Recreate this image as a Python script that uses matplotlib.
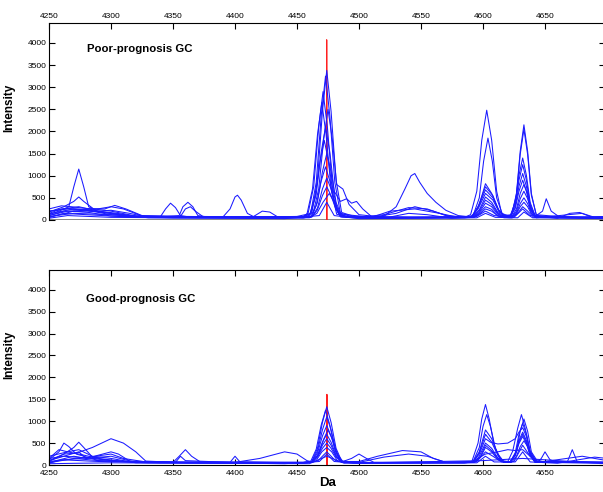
import matplotlib
matplotlib.use("Agg")
import matplotlib.pyplot as plt

plt.rcParams['font.family'] = ['Liberation Sans', 'DejaVu Sans']

# ---------------- data (Da, Intensity) vertices ----------------
x_ticks = [4250, 4300, 4350, 4400, 4450, 4500, 4550, 4600, 4650]
y_ticks = [0, 500, 1000, 1500, 2000, 2500, 3000, 3500, 4000]
panel_titles = ["Poor-prognosis GC", "Good-prognosis GC"]

# Poor-prognosis GC spectra (blue)
poor_1 = [(4250,150),(4260,250),(4274,300),(4290,200),(4305,150),(4320,80),(4360,60),(4420,60),(4455,70),
          (4462,170),(4466.5,900),(4470.5,2450),(4474,3380),(4477.5,2450),(4481.5,900),(4486,170),
          (4495,90),(4520,50),(4560,60),(4585,60),
          (4590,120),(4595,650),(4599,1800),(4603,2480),(4607,1800),(4611,650),(4615,150),(4620,100),
          (4622,100),(4626,400),(4629,1010),(4632,1400),(4635,1010),(4638,400),(4642,100),(4660,60),(4700,50)]
poor_2 = [(4250,200),(4265,250),(4280,220),(4300,120),(4330,60),(4440,50),(4460,80),
          (4461,150),(4465.5,850),(4469.5,2350),(4473,3250),(4476.5,2350),(4480.5,850),(4485,150),
          (4495,70),(4540,60),(4590,80),
          (4592,100),(4597,500),(4600.5,1330),(4604,1850),(4607.5,1330),(4611,500),(4616,100),(4621,80),
          (4623,100),(4627,600),(4630,1550),(4633,2150),(4636,1550),(4639,600),(4643,100),(4655,70),(4680,60),(4700,80)]
poor_3 = [(4250,180),(4262,300),(4270,420),(4274,520),(4278,420),(4286,250),(4300,200),(4320,90),(4400,60),(4455,80),
          (4459,160),(4463.5,760),(4467.5,2100),(4471,2900),(4474.5,2100),(4478.5,760),(4483,160),
          (4490,120),(4510,60),(4530,150),(4545,300),(4560,200),(4575,60),(4590,80),
          (4592,100),(4597,350),(4602,820),(4607,600),(4612,250),(4617,100),
          (4623,120),(4627,560),(4630,1480),(4633,2050),(4636,1480),(4639,560),(4643,120),(4660,80),(4700,60)]
poor_4 = [(4250,120),(4258,200),(4266,300),(4270,750),(4274,1150),(4278,750),(4282,300),(4290,180),(4310,120),(4330,50),
          (4440,40),(4455,60),
          (4458,130),(4462.5,700),(4466.5,1920),(4470,2650),(4473.5,1920),(4477.5,700),(4482,130),
          (4490,80),(4520,40),(4585,60),
          (4591,80),(4596,300),(4602,750),(4608,550),(4613,200),(4618,80),
          (4622,90),(4626,350),(4629,900),(4632,1250),(4635,900),(4638,350),(4642,90),(4660,50),(4700,40)]
poor_5 = [(4250,250),(4260,320),(4268,300),(4280,260),(4295,250),(4303,330),(4312,250),(4325,100),(4380,60),(4450,80),
          (4463,160),(4467.5,700),(4471.5,1820),(4475,2500),(4478.5,1820),(4482,800),(4487,700),(4492,350),(4500,120),
          (4520,60),(4585,70),
          (4591,90),(4596,280),(4602,680),(4608,500),(4613,200),(4618,90),
          (4622,80),(4626,300),(4629,760),(4632,1050),(4635,760),(4638,300),(4642,80),
          (4648,200),(4651,480),(4655,200),(4662,60),(4700,50)]
poor_6 = [(4250,200),(4265,260),(4285,230),(4300,300),(4310,250),(4325,90),(4400,70),(4455,80),
          (4461,140),(4465.5,580),(4469.5,1530),(4473,2100),(4476.5,1530),(4480,650),(4485,420),(4490,480),
          (4494,380),(4498,420),(4503,250),(4510,80),(4560,60),
          (4591,80),(4596,250),(4602,600),(4608,450),(4613,180),(4618,80),
          (4622,70),(4626,260),(4629,650),(4632,900),(4635,650),(4638,260),(4642,80),(4670,60),(4700,70)]
poor_7 = [(4250,100),(4265,200),(4280,220),(4300,150),(4320,60),(4420,60),(4455,60),
          (4460,110),(4464.5,500),(4468.5,1310),(4472,1800),(4475.5,1310),(4479.5,500),(4484,120),
          (4495,60),(4520,80),(4530,300),(4537,700),(4542,1000),(4545,1050),(4549,850),(4555,600),
          (4562,400),(4570,220),(4580,100),(4590,70),
          (4592,90),(4597,230),(4602,520),(4607,400),(4612,170),(4617,80),
          (4623,70),(4627,250),(4630,600),(4633,800),(4636,580),(4639,240),(4643,70),(4700,50)]
poor_8 = [(4250,80),(4270,150),(4300,120),(4330,60),(4390,60),(4396,250),(4400,520),(4402,560),(4405,450),
          (4410,150),(4416,60),(4455,50),
          (4462,80),(4466.5,400),(4470.5,1090),(4474,1500),(4477.5,1090),(4481.5,400),(4486,90),(4500,50),(4585,50),
          (4592,70),(4597,200),(4602,450),(4607,350),(4612,150),(4617,60),
          (4623,60),(4627,200),(4630,480),(4633,650),(4636,480),(4639,200),(4643,60),(4700,40)]
poor_9 = [(4250,60),(4262,150),(4280,120),(4320,60),(4340,80),(4344,250),(4348,380),(4352,280),(4356,100),(4365,60),
          (4415,80),(4422,200),(4428,180),(4435,60),(4455,50),
          (4461,70),(4465.5,330),(4469.5,880),(4473,1200),(4476.5,880),(4480.5,330),(4485,70),(4500,40),(4585,50),
          (4592,60),(4597,170),(4602,380),(4607,300),(4612,130),(4617,60),
          (4623,50),(4627,160),(4630,370),(4633,500),(4636,370),(4639,160),(4643,50),(4680,150),(4690,60),(4700,50)]
poor_10 = [(4250,140),(4270,250),(4290,200),(4310,100),(4340,70),(4355,100),(4358,300),(4362,400),(4366,300),
           (4370,100),(4380,60),(4455,50),
           (4462,70),(4466.5,270),(4470.5,700),(4474,950),(4477.5,700),(4481.5,270),(4486,80),(4500,60),
           (4520,120),(4540,280),(4555,250),(4570,100),(4590,60),
           (4593,70),(4597,150),(4602,300),(4607,240),(4612,100),(4617,60),
           (4623,60),(4627,140),(4630,300),(4633,400),(4636,300),(4639,140),(4643,60),(4700,60)]
poor_11 = [(4250,100),(4262,200),(4280,180),(4300,220),(4315,150),(4330,60),(4356,80),(4360,250),(4364,300),
           (4368,200),(4374,80),(4440,60),
           (4462,70),(4466.5,230),(4470.5,550),(4474,750),(4477.5,550),(4481.5,230),(4486,70),(4510,60),
           (4525,200),(4545,250),(4565,150),(4580,60),
           (4593,60),(4598,150),(4602,250),(4607,200),(4612,90),(4617,50),
           (4624,50),(4628,150),(4632,300),(4636,200),(4641,60),(4700,50)]
poor_12 = [(4250,60),(4270,200),(4280,180),(4300,90),(4350,50),(4460,50),(4466,150),(4471,400),(4476,600),
           (4480,400),(4485,150),(4490,60),(4520,40),(4540,150),(4555,120),(4575,40),(4595,80),(4602,200),
           (4609,100),(4625,60),(4632,250),(4638,100),(4660,40),(4670,150),(4678,170),(4688,60),(4700,80)]
poor_13 = [(4250,40),(4265,100),(4300,60),(4440,30),(4468,100),(4474,400),(4480,100),(4500,30),(4595,50),
           (4602,150),(4610,60),(4628,50),(4633,180),(4640,50),(4700,30)]
poor_baseline = [(4250,0),(4700,0)]

# red marker spectrum (narrow spike) per panel
poor_red = [(4473.9,0),(4473.9,4070),(4474.1,0)]
good_red = [(4474.1,0),(4474.1,1610),(4474.3,0)]

# Good-prognosis GC spectra (blue)
good_1 = [(4250,120),(4258,300),(4262,500),(4266,420),(4272,250),(4290,100),(4330,50),(4455,60),
          (4462,90),(4466.5,380),(4470.5,970),(4474,1330),(4477.5,970),(4481.5,380),(4486,90),(4500,60),(4585,60),
          (4591,80),(4596,500),(4599,1050),(4602,1380),(4605,1050),(4609,450),(4614,100),
          (4622,70),(4626,250),(4629,520),(4632,700),(4635,520),(4638,250),(4642,80),(4700,60)]
good_2 = [(4250,200),(4265,300),(4274,350),(4285,200),(4300,150),(4320,50),(4455,60),
          (4461,80),(4465.5,360),(4469.5,910),(4473,1250),(4476.5,910),(4480.5,360),(4485,80),(4500,50),(4585,70),
          (4592,80),(4597,400),(4600,880),(4603,1150),(4606,880),(4610,380),(4615,90),
          (4620,80),(4624,320),(4628,840),(4631,1150),(4634,840),(4638,320),(4643,80),(4700,50)]
good_3 = [(4250,80),(4262,250),(4270,400),(4274,520),(4278,400),(4286,150),(4300,100),(4330,60),(4455,50),
          (4462,70),(4466.5,320),(4470.5,800),(4474,1100),(4477.5,800),(4481.5,320),(4486,70),(4500,50),(4585,50),
          (4592,70),(4597,300),(4602,800),(4607,600),(4612,250),(4617,70),
          (4622,80),(4627,300),(4630,770),(4633,1050),(4636,770),(4639,300),(4644,80),(4700,60)]
good_4 = [(4250,100),(4262,250),(4272,270),(4285,400),(4300,600),(4310,500),(4320,300),(4328,90),(4360,50),(4455,50),
          (4462,70),(4466.5,270),(4470.5,660),(4474,900),(4477.5,660),(4481.5,270),(4486,70),(4500,50),(4585,50),
          (4592,70),(4597,280),(4602,700),(4607,520),(4612,220),(4617,60),
          (4622,70),(4626,280),(4629,700),(4632,950),(4635,700),(4638,280),(4642,70),(4700,50)]
good_5 = [(4250,150),(4258,350),(4265,300),(4274,250),(4290,150),(4310,80),(4455,60),
          (4463,70),(4467.5,250),(4471.5,590),(4475,800),(4478.5,590),(4482.5,250),(4487,80),(4500,50),(4585,60),
          (4592,80),(4597,250),(4602,600),(4606,520),(4612,480),(4620,500),(4626,600),(4629,750),(4632,850),
          (4635,650),(4638,300),(4643,80),(4700,60)]
good_6 = [(4250,60),(4270,200),(4280,150),(4300,300),(4306,250),(4315,90),(4350,60),(4355,200),(4360,350),
          (4365,200),(4372,70),(4455,50),
          (4462,60),(4466.5,220),(4470.5,520),(4474,700),(4477.5,520),(4481.5,220),(4486,60),(4498,50),(4585,50),
          (4593,60),(4597,200),(4602,500),(4607,380),(4612,160),(4617,60),
          (4622,60),(4626,230),(4629,560),(4632,750),(4635,560),(4638,230),(4642,60),(4668,70),(4672,350),
          (4676,70),(4700,60)]
good_7 = [(4250,80),(4275,150),(4300,250),(4310,150),(4330,60),(4400,60),(4420,150),(4440,300),(4450,250),(4458,100),
          (4462,70),(4466.5,200),(4470.5,450),(4474,600),(4477.5,450),(4481.5,200),(4486,80),(4500,80),
          (4515,200),(4535,330),(4550,300),(4560,150),(4570,60),(4590,60),
          (4594,80),(4598,200),(4602,450),(4607,330),(4612,150),(4617,60),
          (4622,60),(4626,210),(4629,490),(4632,650),(4635,490),(4638,210),(4642,60),(4700,50)]
good_8 = [(4250,150),(4262,200),(4285,150),(4310,80),(4352,60),(4356,200),(4360,100),(4396,60),(4400,200),
          (4404,70),(4455,50),
          (4462,60),(4466.5,180),(4470.5,380),(4474,500),(4477.5,380),(4481.5,180),(4486,70),(4494,150),(4500,250),
          (4506,150),(4512,60),(4585,60),
          (4594,70),(4598,180),(4602,400),(4607,300),(4612,120),(4617,60),
          (4623,60),(4627,200),(4630,420),(4633,550),(4636,420),(4639,200),(4644,60),(4647,150),(4650,300),
          (4654,120),(4660,60),(4700,60)]
good_9 = [(4250,50),(4270,150),(4290,100),(4340,50),(4455,40),(4465,80),(4470,300),(4474,400),(4478,300),
          (4483,80),(4500,60),(4520,180),(4540,250),(4555,200),(4570,60),(4595,80),(4602,300),(4608,200),
          (4615,70),(4625,80),(4632,450),(4638,200),(4645,60),(4680,200),(4690,150),(4700,100)]
good_10 = [(4250,100),(4274,300),(4280,150),(4300,200),(4320,60),(4455,40),(4467,100),(4474,300),(4481,100),
           (4495,40),(4590,60),(4602,250),(4612,300),(4620,350),(4626,330),(4632,350),(4640,150),(4650,60),(4700,40)]
good_11 = [(4250,40),(4260,120),(4290,80),(4440,30),(4468,80),(4474,250),(4480,80),(4500,40),(4595,50),
           (4602,200),(4609,70),(4626,70),(4632,300),(4638,70),(4660,40),(4690,180),(4700,150)]
good_12 = [(4250,30),(4300,50),(4460,30),(4474,200),(4488,40),(4600,100),(4632,150),(4700,30)]

poor_curves = [poor_1, poor_2, poor_3, poor_4, poor_5, poor_6, poor_7, poor_8, poor_9, poor_10,
               poor_11, poor_12, poor_13]
good_curves = [good_1, good_2, good_3, good_4, good_5, good_6, good_7, good_8, good_9, good_10,
               good_11, good_12]

# ---------------- drawing ----------------
W, H = 603, 492
fig = plt.figure(figsize=(W / 100, H / 100), dpi=100)

x_lo, x_hi = 4250, 4698.5
y_lo, y_hi = 0, 4450
ax_left = 49 / W
ax_width = (x_hi - x_lo) * 1.24 / W

ax_top = fig.add_axes([ax_left, (H - 220) / H, ax_width, 197 / H])
ax_bot = fig.add_axes([ax_left, (H - 465) / H, ax_width, 195 / H])

BLUE = '#1a1aff'
RED = '#ff2020'


def draw(ax, curves, red):
    ax.plot([p[0] for p in red], [p[1] for p in red], color=RED, lw=0.9, zorder=1.8)
    for c in curves:
        xs = [p[0] for p in c]
        ys = [p[1] for p in c]
        ax.plot(xs, ys, color=BLUE, lw=0.75, solid_joinstyle='round', zorder=2)
    ax.set_xlim(x_lo, x_hi)
    ax.set_ylim(y_lo, y_hi)
    ax.set_xticks(x_ticks)
    ax.set_yticks(y_ticks)
    ax.tick_params(direction='in', length=4.5, width=0.8, labelsize=6, pad=2,
                   left=True, right=True, top=True, bottom=True)
    for s in ax.spines.values():
        s.set_linewidth(0.8)
    ax.set_ylabel('Intensity', fontsize=8.5, fontweight='bold')


draw(ax_top, poor_curves, poor_red)
ax_top.plot([p[0] for p in poor_baseline], [p[1] for p in poor_baseline], color='#888888', lw=1.4, zorder=1)
ax_top.xaxis.tick_top()
ax_top.tick_params(bottom=False, top=True, right=True, labelbottom=False, labeltop=True)
ax_top.spines['bottom'].set_visible(False)
ax_top.yaxis.set_label_coords(-0.061, 0.57)
ax_top.text(4280.5, 3870, panel_titles[0], fontsize=8.2, fontweight='bold', va='center', ha='left')

draw(ax_bot, good_curves, good_red)
ax_bot.tick_params(top=True, right=True, labeltop=False, labelbottom=True)
ax_bot.tick_params(axis='x', pad=3.5)
ax_bot.yaxis.set_label_coords(-0.061, 0.564)
ax_bot.set_xlabel('Da', fontsize=9.5, fontweight='bold', labelpad=0)
ax_bot.text(4280, 3790, panel_titles[1], fontsize=8.2, fontweight='bold', va='center', ha='left')

fig.savefig('out.png', dpi=100)
